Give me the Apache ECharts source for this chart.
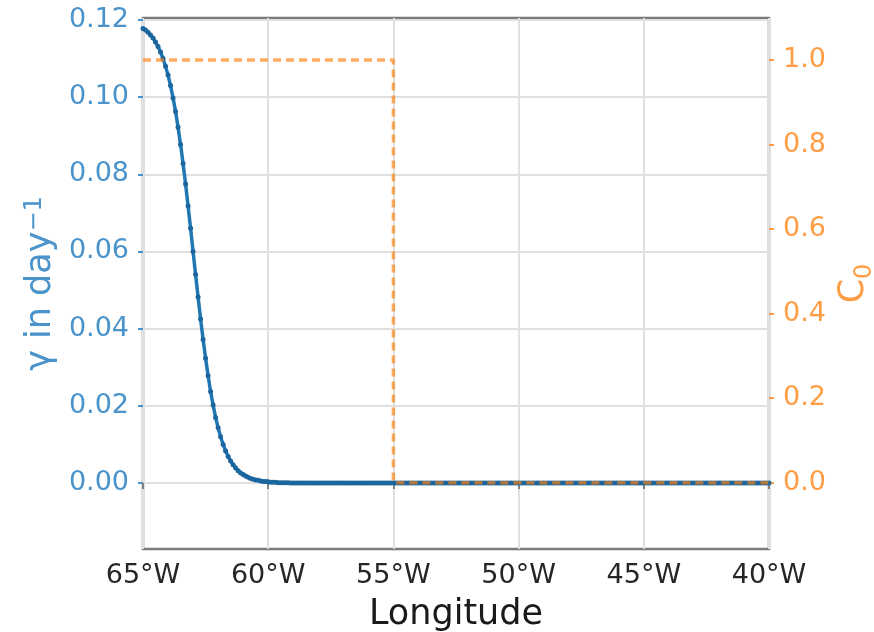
<!DOCTYPE html>
<html>
<head>
<meta charset="utf-8">
<script src="https://cdn.jsdelivr.net/npm/echarts@6/dist/echarts.min.js"></script>
<style>
html,body{margin:0;padding:0;background:#fff;overflow:hidden;}
#chart{width:874px;height:632px;}
</style>
</head>
<body>
<div id="chart"></div>
<script>
// Longitude grid of the gamma curve (degrees east, negative = west)
const lonStart = -65;
const lonStep = 0.1;
// gamma (day^-1), one value per 0.1 degree from 65W
const gammaHead = [
  0.1178,0.1174,0.1168,0.1161,0.1153,0.1143,0.1131,0.1117,0.1100,0.1080,
  0.1057,0.1030,0.0998,0.0963,0.0922,0.0877,0.0828,0.0775,0.0718,0.0660,
  0.0600,0.0540,0.0482,0.0425,0.0372,0.0323,0.0278,0.0237,0.0202,0.0170,
  0.0143,0.0120,0.0100,0.0083,0.0069,0.0057,0.0047,0.0039,0.0032,0.0026,
  0.0022,0.0018,0.0015,0.0012,0.0010,0.0008,0.0007,0.0005,0.0004,0.0004,
  0.0003,0.0002,0.0002,0.0002,0.0001,0.0001,0.0001,0.0001,0.0001,0.0000,
  0.0000
];
const gammaTail = [
  0,0,0,0,0,0,0,0,0,0, 0,0,0,0,0,0,0,0,0,0,
  0,0,0,0,0,0,0,0,0,0, 0,0,0,0,0,0,0,0,0,0,
  0,0,0,0,0,0,0,0,0,0, 0,0,0,0,0,0,0,0,0,0,
  0,0,0,0,0,0,0,0,0,0, 0,0,0,0,0,0,0,0,0,0,
  0,0,0,0,0,0,0,0,0,0, 0,0,0,0,0,0,0,0,0,0,
  0,0,0,0,0,0,0,0,0,0, 0,0,0,0,0,0,0,0,0,0,
  0,0,0,0,0,0,0,0,0,0, 0,0,0,0,0,0,0,0,0,0,
  0,0,0,0,0,0,0,0,0,0, 0,0,0,0,0,0,0,0,0,0,
  0,0,0,0,0,0,0,0,0,0, 0,0,0,0,0,0,0,0,0,0,
  0,0,0,0,0,0,0,0,0,0
];
// C0 step function
const c0Lon = [-65, -55, -55, -40];
const c0Val = [1, 1, 0, 0];
// tick values
const gammaTicks = [0, 0.02, 0.04, 0.06, 0.08, 0.10, 0.12];
const c0Ticks = [0, 0.2, 0.4, 0.6, 0.8, 1.0];

const gammaVals = gammaHead.concat(gammaTail);
const gammaData = gammaVals.map((v, i) => [+(lonStart + i * lonStep).toFixed(1), v]);
const c0Data = c0Lon.map((x, i) => [x, c0Val[i]]);

const FONT = 'DejaVu Sans';
const BLUE = '#1f77b4';
const BLUE_TXT = '#4a93cb';
const ORANGE = '#ff7f0e';
const ORANGE_TXT = '#ff9d45';

const chart = echarts.init(document.getElementById('chart'), null, {renderer: 'canvas'});
chart.setOption({
  animation: false,
  backgroundColor: '#ffffff',
  grid: {
    left: 143, top: 18, width: 626, height: 531,
    containLabel: false, outerBoundsMode: 'none',
    show: true, borderColor: '#7a7a7a', borderWidth: 2.5, backgroundColor: 'transparent'
  },
  xAxis: {
    type: 'value', min: -65, max: -40, interval: 5,
    name: 'Longitude', nameLocation: 'middle', nameGap: 48,
    nameTextStyle: {fontFamily: FONT, fontSize: 35, color: '#1a1a1a'},
    axisLine: {show: false},
    axisTick: {show: true, length: 6, lineStyle: {color: '#808080', width: 2}},
    axisLabel: {
      margin: 13, fontFamily: FONT, fontSize: 27, color: '#262626',
      formatter: v => Math.abs(v) + '°W'
    },
    splitLine: {show: true, lineStyle: {color: '#e0e0e0', width: 2}}
  },
  yAxis: [
    {
      type: 'value', min: -0.0171, max: 0.1205, position: 'left',
      name: '{m|γ in day}{p|−1}', nameLocation: 'middle', nameGap: 80, nameRotate: 90,
      nameTextStyle: {
        fontFamily: FONT, fontSize: 35, color: BLUE_TXT,
        rich: {
          m: {fontFamily: FONT, fontSize: 35, color: BLUE_TXT, lineHeight: 40, verticalAlign: 'top'},
          p: {fontFamily: FONT, fontSize: 24, color: BLUE_TXT, lineHeight: 22, verticalAlign: 'top'}
        }
      },
      axisLine: {show: false},
      axisTick: {show: true, length: 5, customValues: gammaTicks, lineStyle: {color: BLUE_TXT, width: 2}},
      axisLabel: {
        customValues: gammaTicks, margin: 14, fontFamily: FONT, fontSize: 27, color: BLUE_TXT,
        formatter: v => v.toFixed(2)
      },
      splitLine: {show: true, lineStyle: {color: '#e0e0e0', width: 2}}
    },
    {
      type: 'value', min: -0.157, max: 1.0994, position: 'right',
      name: '{c|C}{s|0}', nameLocation: 'middle', nameGap: 60, nameRotate: 90,
      nameTextStyle: {
        fontFamily: FONT, fontSize: 35, color: ORANGE_TXT,
        rich: {
          c: {fontFamily: FONT, fontSize: 35, color: ORANGE_TXT, lineHeight: 40, verticalAlign: 'top'},
          s: {fontFamily: FONT, fontSize: 24, color: ORANGE_TXT, lineHeight: 16, verticalAlign: 'bottom'}
        }
      },
      axisLine: {show: false},
      axisTick: {show: true, length: 5, customValues: c0Ticks, lineStyle: {color: ORANGE_TXT, width: 2}},
      axisLabel: {
        customValues: c0Ticks, margin: 14, fontFamily: FONT, fontSize: 27, color: ORANGE_TXT,
        formatter: v => v.toFixed(1)
      },
      splitLine: {show: false}
    }
  ],
  series: [
    {
      type: 'line', yAxisIndex: 0, data: gammaData,
      showSymbol: true, symbol: 'circle', symbolSize: 5,
      itemStyle: {color: '#1b669e'},
      lineStyle: {color: BLUE, width: 3.5},
      z: 2
    },
    {
      type: 'line', yAxisIndex: 1, data: c0Data,
      showSymbol: false,
      lineStyle: {color: ORANGE, width: 3.5, type: [8, 5], opacity: 0.65},
      z: 3
    }
  ]
});
</script>
</body>
</html>
